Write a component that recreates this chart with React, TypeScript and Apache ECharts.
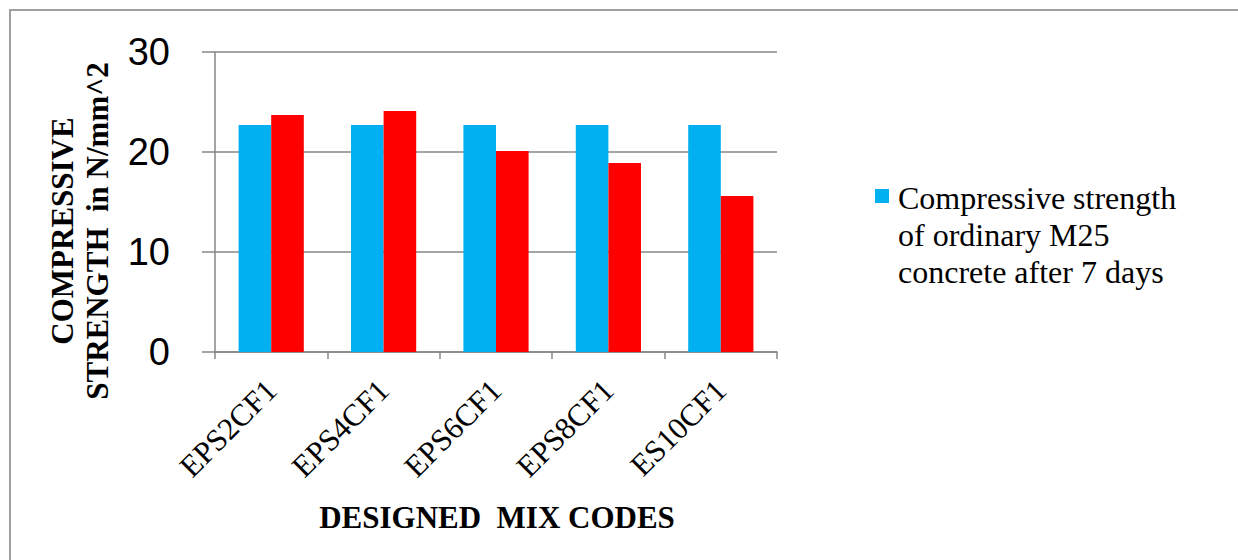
import React, { useEffect, useRef } from "react";
import * as echarts from "echarts";

const categories = ["EPS2CF1", "EPS4CF1", "EPS6CF1", "EPS8CF1", "ES10CF1"];
const ordinaryValues = [22.7, 22.7, 22.7, 22.7, 22.7];
const mixValues = [23.7, 24.1, 20.1, 18.9, 15.6];
const yTicks = { min: 0, max: 30, interval: 10 };
const ordinaryName = "Compressive strength\nof ordinary M25\nconcrete after 7 days";
const mixName = "Compressive strength of designed mix after 7 days";
const yTitle = "COMPRESSIVE\nSTRENGTH  in N/mm^2";
const xTitle = "DESIGNED  MIX CODES";
const ordinaryColor = "#00B0F0";
const mixColor = "#FF0000";

export default function App() {
  const ref = useRef<HTMLDivElement>(null);
  useEffect(() => {
    if (!ref.current) return;
    const chart = echarts.init(ref.current, null, { renderer: "svg" });
    const axisColor = "#878787";
    chart.setOption({
      animation: false,
      backgroundColor: "#ffffff",
      grid: { left: 215, right: 461, top: 52, bottom: 208, containLabel: false },
      xAxis: {
        type: "category",
        data: categories,
        axisLine: { lineStyle: { color: axisColor, width: 1.5 } },
        axisTick: { show: true, length: 7, lineStyle: { color: axisColor, width: 1.5 } },
        axisLabel: {
          rotate: 45,
          margin: 33,
          fontFamily: "Liberation Serif",
          fontSize: 31,
          color: "#000",
        },
      },
      yAxis: {
        type: "value",
        min: yTicks.min,
        max: yTicks.max,
        interval: yTicks.interval,
        axisLine: { show: true, lineStyle: { color: axisColor, width: 1.5 } },
        axisTick: { show: true, length: 13, lineStyle: { color: axisColor, width: 1.5 } },
        splitLine: { lineStyle: { color: axisColor, width: 1.5 } },
        axisLabel: {
          margin: 45,
          fontFamily: "Liberation Sans",
          fontSize: 38,
          color: "#000",
        },
      },
      series: [
        {
          name: ordinaryName,
          type: "bar",
          data: ordinaryValues,
          barGap: "0%",
          barCategoryGap: "42%",
          itemStyle: { color: ordinaryColor },
        },
        {
          name: mixName,
          type: "bar",
          data: mixValues,
          barGap: "0%",
          barCategoryGap: "42%",
          itemStyle: { color: mixColor },
        },
      ],
      graphic: [
        {
          type: "rect",
          shape: { x: 10, y: 10, width: 1250, height: 570 },
          style: { fill: "none", stroke: "#a0a0a0", lineWidth: 2 },
          silent: true,
        },
        {
          type: "text",
          x: 80,
          y: 231,
          rotation: Math.PI / 2,
          style: {
            text: yTitle,
            align: "center",
            verticalAlign: "middle",
            fontFamily: "Liberation Serif",
            fontWeight: "bold",
            fontSize: 31,
            lineHeight: 35,
            fill: "#000",
          },
        },
        {
          type: "text",
          x: 497,
          y: 517,
          style: {
            text: xTitle,
            align: "center",
            verticalAlign: "middle",
            fontFamily: "Liberation Serif",
            fontWeight: "bold",
            fontSize: 31,
            fill: "#000",
          },
        },
        {
          type: "rect",
          shape: { x: 875, y: 189, width: 14, height: 14 },
          style: { fill: ordinaryColor },
        },
        {
          type: "text",
          x: 898,
          y: 179,
          style: {
            text: ordinaryName,
            align: "left",
            verticalAlign: "top",
            fontFamily: "Liberation Serif",
            fontSize: 32,
            lineHeight: 37,
            fill: "#000",
          },
        },
      ],
    });
    return () => chart.dispose();
  }, []);
  return (
    <div
      ref={ref}
      style={{ position: "fixed", left: 0, top: 0, width: 1238, height: 560 }}
    />
  );
}
